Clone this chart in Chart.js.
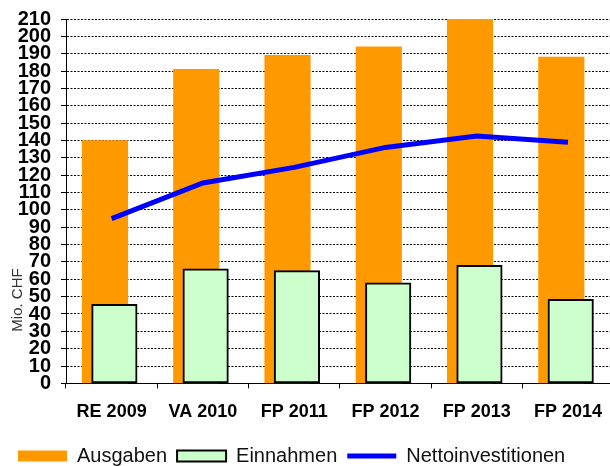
<!DOCTYPE html>
<html>
<head>
<meta charset="utf-8">
<script src="https://cdn.jsdelivr.net/npm/chart.js@4"></script>
<style>
  html, body { margin: 0; padding: 0; background: #fff; overflow: hidden; }
  #wrap { position: relative; width: 615px; height: 482px; }
</style>
</head>
<body>
<div id="wrap"><canvas id="grafico"></canvas></div>
<script>
const kategorien = ["RE 2009", "VA 2010", "FP 2011", "FP 2012", "FP 2013", "FP 2014"];
const ausgaben = [140, 181, 189, 194, 210, 188];
const einnahmen = [45.5, 66, 65, 58, 68, 48.5];
const nettoinvestitionen = [95, 115.5, 124.5, 136, 142.5, 139];
const yMin = 0;
const yMax = 210;
const yStep = 10;

// Balken leicht gegeneinander versetzt (Einnahmen vor Ausgaben)
const versatzAusgaben = -0.073;
const versatzEinnahmen = 0.03;

const achsenTitel = {
  id: "achsenTitel",
  afterDraw(chart) {
    const ctx = chart.ctx;
    ctx.save();
    ctx.translate(17.5, 300);
    ctx.rotate(-Math.PI / 2);
    ctx.font = "15px 'Liberation Sans'";
    ctx.fillStyle = "#333";
    ctx.textAlign = "center";
    ctx.textBaseline = "middle";
    ctx.fillText("Mio. CHF", 0, 0);
    ctx.restore();
  }
};

const ctx = document.getElementById("grafico").getContext("2d");
new Chart(ctx, {
  type: "bar",
  data: {
    labels: kategorien,
    datasets: [
      {
        label: "Ausgaben",
        data: ausgaben.map((v, i) => ({ x: i + versatzAusgaben, y: v })),
        xAxisID: "xb",
        grouped: false,
        barThickness: 45.5,
        backgroundColor: "#FF9900",
        borderWidth: 0,
        order: 2
      },
      {
        label: "Einnahmen",
        data: einnahmen.map((v, i) => ({ x: i + versatzEinnahmen, y: v })),
        xAxisID: "xb",
        grouped: false,
        barThickness: 45.5,
        backgroundColor: "#CCFFCC",
        borderColor: "#000",
        borderWidth: 2,
        borderSkipped: false,
        order: 1
      },
      {
        type: "line",
        label: "Nettoinvestitionen",
        data: nettoinvestitionen,
        xAxisID: "x",
        borderColor: "#0000FF",
        backgroundColor: "#0000FF",
        borderWidth: 5,
        pointRadius: 0,
        tension: 0,
        fill: false,
        order: 0
      }
    ]
  },
  options: {
    responsive: true,
    maintainAspectRatio: false,
    animation: false,
    layout: { padding: { left: 8, right: 0, top: 19, bottom: 6 } },
    plugins: {
      tooltip: { enabled: false },
      legend: {
        position: "bottom",
        align: "start",
        labels: {
          usePointStyle: true,
          pointStyleWidth: 49,
          boxHeight: 11,
          padding: 10,
          color: "#111",
          font: { family: "'Liberation Sans'", size: 20 },
          generateLabels(chart) {
            const items = Chart.defaults.plugins.legend.labels.generateLabels(chart);
            items.sort((a, b) => a.datasetIndex - b.datasetIndex);
            items.forEach(it => {
              const ds = chart.data.datasets[it.datasetIndex];
              if (ds.type === "line") {
                it.pointStyle = "line";
                it.strokeStyle = ds.borderColor;
                it.lineWidth = ds.borderWidth;
              } else {
                it.pointStyle = "rect";
                it.fillStyle = ds.backgroundColor;
                it.strokeStyle = ds.borderColor || ds.backgroundColor;
                it.lineWidth = ds.borderWidth;
              }
            });
            return items;
          }
        }
      }
    },
    scales: {
      x: {
        type: "category",
        offset: true,
        grid: {
          offset: true,
          drawOnChartArea: false,
          drawTicks: true,
          tickLength: 5,
          tickColor: "#000"
        },
        border: { color: "#000", width: 1 },
        ticks: {
          color: "#000",
          padding: 13,
          maxRotation: 0,
          autoSkip: false,
          font: { family: "'Liberation Sans'", size: 18, weight: "bold" }
        }
      },
      xb: {
        type: "linear",
        display: false,
        offset: false,
        min: -0.5,
        max: kategorien.length - 0.5
      },
      y: {
        min: yMin,
        max: yMax,
        afterFit(scale) {
          scale.width = 58;
          scale.paddingTop = 0;
        },
        grid: {
          color: "#000",
          lineWidth: 1,
          tickLength: 5,
          tickColor: "#000",
          tickBorderDash: []
        },
        border: { display: true, color: "#000", width: 1, dash: [2, 1.5] },
        ticks: {
          stepSize: yStep,
          autoSkip: false,
          color: "#000",
          padding: 10,
          font: { family: "'Liberation Sans'", size: 20, weight: "bold" }
        }
      }
    }
  },
  plugins: [achsenTitel]
});
</script>
</body>
</html>
